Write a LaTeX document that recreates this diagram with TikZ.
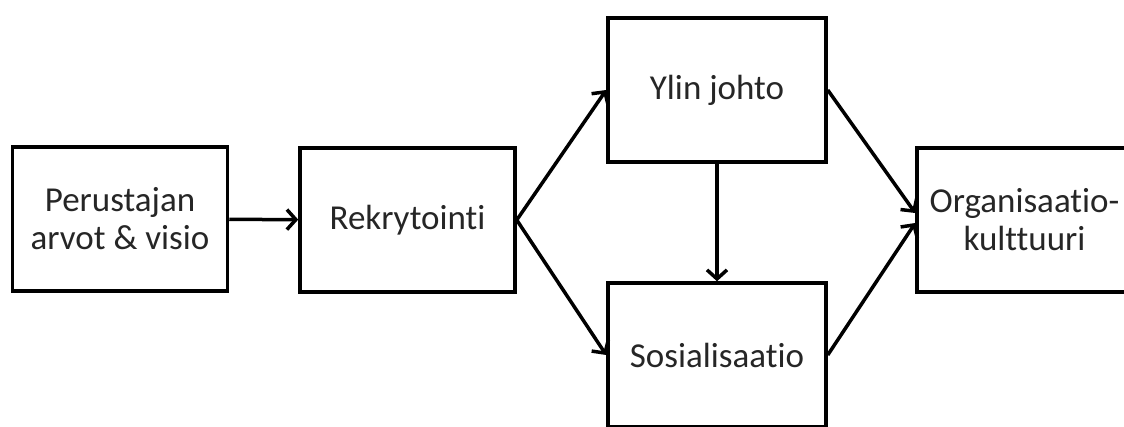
\documentclass[tikz,border=0pt]{standalone}
\usepackage{fontspec}
\setmainfont{Carlito}[Ligatures=NoCommon]
\usetikzlibrary{arrows.meta}

\tikzset{
  box/.style={draw, line width=3.5pt, inner sep=0pt, align=center,
    minimum width=215pt, minimum height=144pt,
    text=black!85, font=\fontsize{35}{38}\selectfont},
  arr/.style={line width=3.5pt, -{Straight Barb[length=9pt,width=20pt,line width=3.5pt]}}
}

\begin{document}
\begin{tikzpicture}[x=1pt,y=-1pt]
\clip (0,0) rectangle (1124,426);
\fill[white] (0,0) rectangle (1124,426);
% boxes
\node[box] (arvot) at (120,219) {Perustajan\\arvot \& visio};
\node[box] (rekry) at (407.5,220) {Rekrytointi};
\node[box, minimum width=218pt] (johto) at (717,90) {Ylin johto};
\node[box, minimum width=218pt] (sosio) at (717,355) {Sosialisaatio};
\node[box] (kulttuuri) at (1024.5,220) {Organisaatio-\\kulttuuri};
% arrows
\draw[arr] (arvot) -- (rekry);
\draw[arr] (rekry.east) -- (johto.west);
\draw[arr] (rekry.east) -- (sosio.west);
\draw[arr] (johto) -- (sosio);
\draw[arr] (johto.east) -- ([yshift=7pt]kulttuuri.west);
\draw[arr] (sosio.east) -- ([yshift=-3pt]kulttuuri.west);
\end{tikzpicture}
\end{document}
